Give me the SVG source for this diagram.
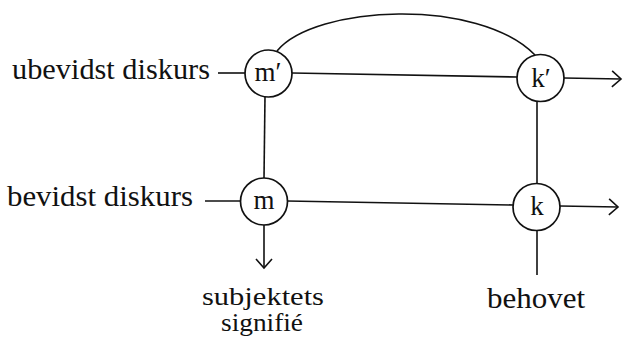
<svg xmlns="http://www.w3.org/2000/svg" width="623" height="343" viewBox="0 0 623 343">
<style>
.lbl{font-family:"Liberation Serif","Times New Roman",serif;font-size:30px;fill:#111;}
.sm{font-family:"Liberation Serif","Times New Roman",serif;font-size:25px;fill:#111;}
.nt{font-family:"Liberation Serif","Times New Roman",serif;font-size:27px;text-anchor:middle;fill:#111;}
.node circle{fill:#fff;stroke:#111;stroke-width:1.7;}
.conn path,.conn line{fill:none;stroke:#111;stroke-width:1.6;}
</style>
<defs>
<marker id="arr" markerUnits="userSpaceOnUse" markerWidth="14" markerHeight="20" refX="10" refY="9" orient="auto">
<path d="M1,1 L10,9 L1,17" fill="none" stroke="#111" stroke-width="1.6"/>
</marker>
</defs>
<g class="conn" id="connectors">
<line x1="218" y1="73" x2="245" y2="73"/>
<line x1="292" y1="73" x2="517" y2="77"/>
<line x1="564" y1="78" x2="621" y2="79" marker-end="url(#arr)"/>
<path d="M277,51 C315,5 478,-3 535,55"/>
<line x1="265" y1="96" x2="264" y2="178"/>
<line x1="537" y1="101" x2="537" y2="183"/>
<line x1="205" y1="201" x2="241" y2="201"/>
<line x1="287" y1="201" x2="513" y2="205"/>
<line x1="560" y1="206" x2="618" y2="207" marker-end="url(#arr)"/>
<line x1="264" y1="224" x2="264" y2="268" marker-end="url(#arr)"/>
<line x1="537" y1="230" x2="537" y2="275"/>
</g>
<g class="node" id="node-mprime"><circle cx="268.5" cy="73.5" r="23.5"/><text class="nt" x="268" y="81">m′</text></g>
<g class="node" id="node-kprime"><circle cx="540.5" cy="78" r="23.5"/><text class="nt" x="541" y="87">k′</text></g>
<g class="node" id="node-m"><circle cx="264" cy="201.5" r="23.5"/><text class="nt" x="264" y="209">m</text></g>
<g class="node" id="node-k"><circle cx="536.5" cy="207" r="23.5"/><text class="nt" x="537" y="215">k</text></g>
<g id="labels">
<text class="lbl" x="12" y="79" textLength="198" lengthAdjust="spacingAndGlyphs">ubevidst diskurs</text>
<text class="lbl" x="7" y="206" textLength="186" lengthAdjust="spacingAndGlyphs">bevidst diskurs</text>
<text class="sm" x="202" y="305" textLength="122" lengthAdjust="spacingAndGlyphs">subjektets</text>
<text class="sm" x="221" y="331" textLength="82" lengthAdjust="spacingAndGlyphs">signifié</text>
<text class="lbl" x="487" y="308" textLength="98" lengthAdjust="spacingAndGlyphs">behovet</text>
</g>
</svg>
